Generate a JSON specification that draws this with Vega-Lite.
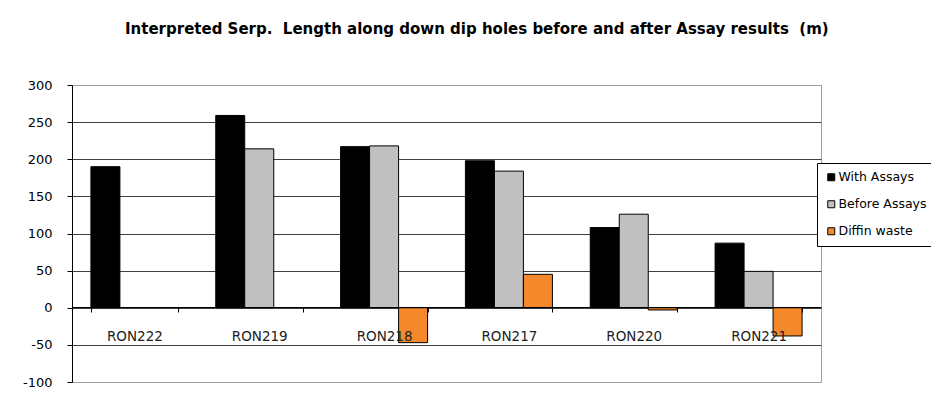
{
  "$schema": "https://vega.github.io/schema/vega-lite/v6.json",
  "width": 749,
  "height": 297,
  "autosize": {"type": "none"},
  "padding": {"left": 72, "top": 85, "right": 110, "bottom": 18},
  "background": "white",
  "title": {
    "text": "Interpreted Serp. \u00a0Length along down dip holes before and after Assay results \u00a0(m)",
    "font": "DejaVu Sans",
    "fontSize": 15,
    "fontWeight": "bold",
    "color": "black",
    "anchor": "start",
    "frame": "group",
    "dx": 53,
    "offset": 42
  },
  "data": {
    "values": [
      {"hole": "RON222", "series": "With Assays", "value": 190},
      {"hole": "RON219", "series": "With Assays", "value": 259},
      {"hole": "RON219", "series": "Before Assays", "value": 214},
      {"hole": "RON218", "series": "With Assays", "value": 217},
      {"hole": "RON218", "series": "Before Assays", "value": 218},
      {"hole": "RON218", "series": "Diffin waste", "value": -47},
      {"hole": "RON217", "series": "With Assays", "value": 198},
      {"hole": "RON217", "series": "Before Assays", "value": 184},
      {"hole": "RON217", "series": "Diffin waste", "value": 45},
      {"hole": "RON220", "series": "With Assays", "value": 108},
      {"hole": "RON220", "series": "Before Assays", "value": 126},
      {"hole": "RON220", "series": "Diffin waste", "value": -3},
      {"hole": "RON221", "series": "With Assays", "value": 87},
      {"hole": "RON221", "series": "Before Assays", "value": 49},
      {"hole": "RON221", "series": "Diffin waste", "value": -38}
    ]
  },
  "mark": {"type": "bar", "stroke": "black", "strokeWidth": 1},
  "encoding": {
    "x": {
      "field": "hole",
      "type": "nominal",
      "sort": ["RON222", "RON219", "RON218", "RON217", "RON220", "RON221"],
      "scale": {"paddingInner": 0.303, "paddingOuter": 0.1515},
      "axis": {
        "title": null,
        "offset": -75,
        "zindex": 1,
        "domainColor": "black",
        "tickColor": "black",
        "tickBand": "extent",
        "tickSize": 5,
        "labelPadding": 17,
        "labelAngle": 0,
        "labelFont": "DejaVu Sans",
        "labelFontSize": 13.5,
        "labelColor": "#222222",
        "grid": false
      }
    },
    "xOffset": {
      "field": "series",
      "type": "nominal",
      "scale": {"domain": ["With Assays", "Before Assays", "Diffin waste"], "paddingInner": 0, "paddingOuter": 0}
    },
    "y": {
      "field": "value",
      "type": "quantitative",
      "scale": {"domain": [-100, 300], "nice": false},
      "axis": {
        "title": null,
        "values": [-100, -50, 0, 50, 100, 150, 200, 250, 300],
        "labelExpr": "'' + datum.value",
        "grid": true,
        "gridColor": {"condition": {"test": "datum.value === 300 || datum.value === -100", "value": "#a0a0a0"}, "value": "#404040"},
        "gridOpacity": 1,
        "domainColor": "black",
        "tickColor": "black",
        "tickSize": 5,
        "labelPadding": 15,
        "labelFont": "DejaVu Sans",
        "labelFontSize": 13,
        "labelColor": "black"
      }
    },
    "color": {
      "field": "series",
      "type": "nominal",
      "scale": {"domain": ["With Assays", "Before Assays", "Diffin waste"], "range": ["#000000", "#c0c0c0", "#f5882a"]},
      "legend": {
        "title": null,
        "orient": "none",
        "legendX": 745,
        "legendY": 78,
        "direction": "vertical",
        "strokeColor": "black",
        "fillColor": "white",
        "padding": 8,
        "symbolType": "square",
        "symbolSize": 49,
        "symbolStrokeColor": "black",
        "symbolStrokeWidth": 1,
        "symbolOpacity": 1,
        "labelFont": "DejaVu Sans",
        "labelFontSize": 12.5,
        "labelColor": "black",
        "labelOffset": 1,
        "rowPadding": 14
      }
    }
  },
  "config": {
    "view": {"stroke": "#a0a0a0"}
  }
}
